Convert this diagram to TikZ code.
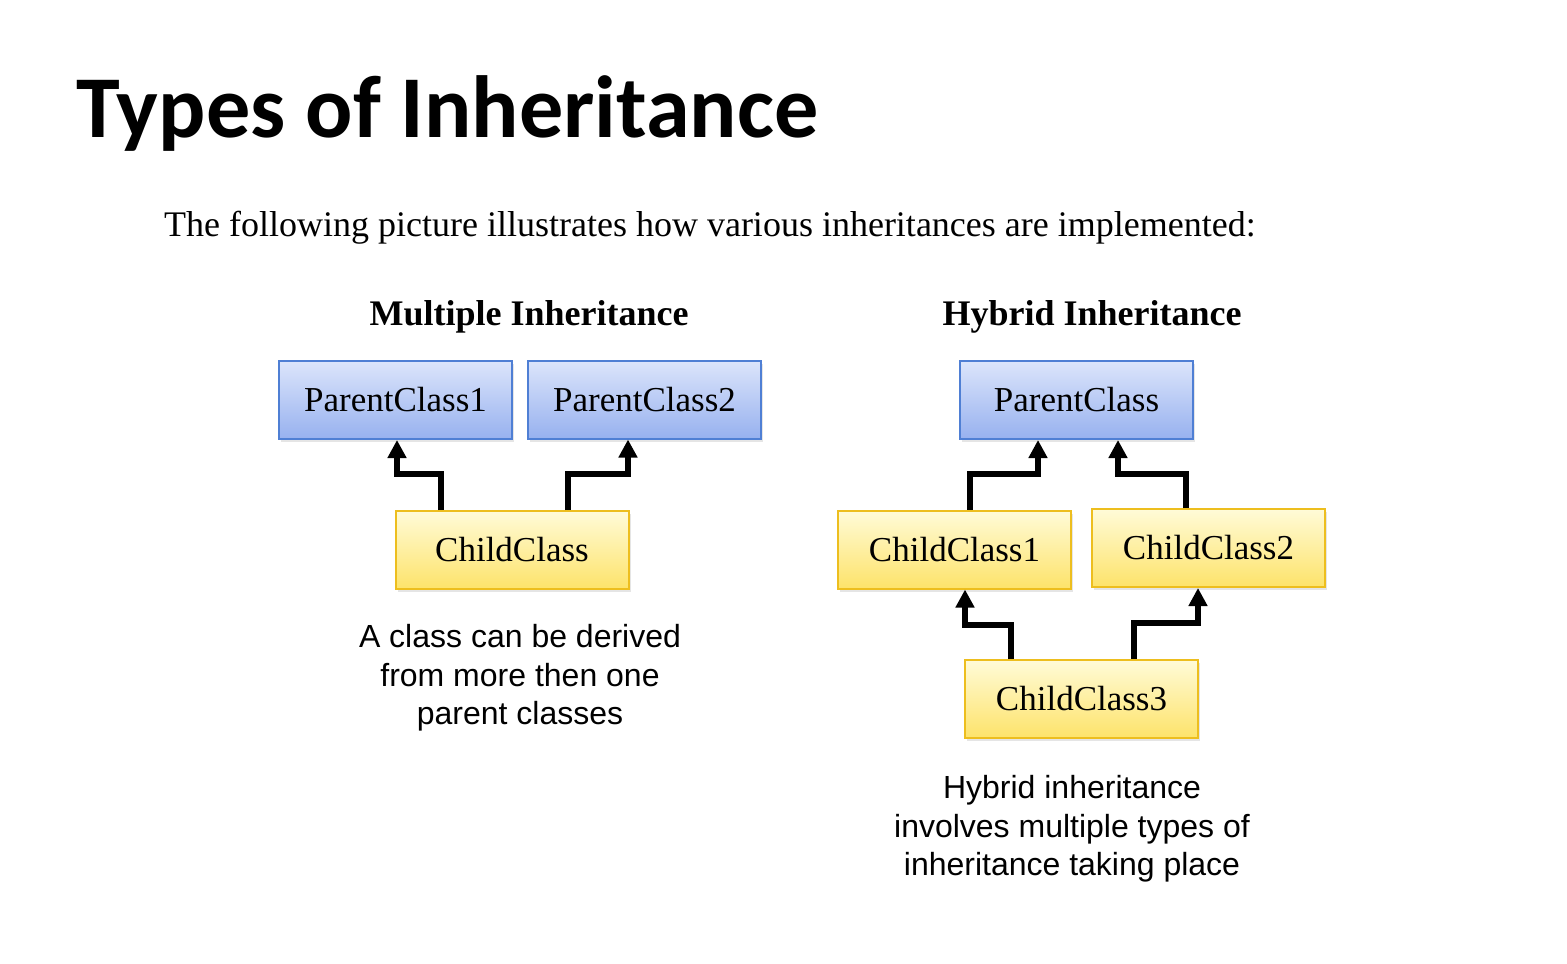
\documentclass[tikz,border=0pt]{standalone}
\usepackage{fontspec}
\setmainfont{Liberation Serif}
\setsansfont{Liberation Sans}
\newfontfamily\titlefont{Carlito}
\usetikzlibrary{arrows.meta}
\usetikzlibrary{shadows}
\definecolor{pbluetop}{HTML}{DCE5FB}
\definecolor{pbluebot}{HTML}{97B1EF}
\definecolor{pblueline}{HTML}{4F7FD4}
\definecolor{cyeltop}{HTML}{FFFBD8}
\definecolor{cyelbot}{HTML}{FDE36A}
\definecolor{cyelline}{HTML}{EDBE1E}

\begin{document}
\begin{tikzpicture}[x=0.5pt, y=-0.5pt,
		box/.style={rectangle, minimum width=116.5pt, minimum height=39pt, inner sep=0pt, line width=1pt, font=\fontsize{17.5}{20}\selectfont, drop shadow={opacity=0.2, shadow xshift=1pt, shadow yshift=-1.5pt}},
		parent/.style={box, draw=pblueline, top color=pbluetop, bottom color=pbluebot},
		child/.style={box, draw=cyelline, top color=cyeltop, bottom color=cyelbot},
		inh/.style={line width=3pt, line join=miter, -{Triangle[length=9pt, width=9pt]}},
		caption/.style={align=center, font=\sffamily\fontsize{16}{19.25}\selectfont}]
		\fill[white] (0,0) rectangle (1567,963);
		\useasboundingbox (0,0) rectangle (1567,963);
		\node[anchor=base west, font=\titlefont\bfseries\fontsize{44.1}{50}\selectfont] (title) at (69,137) {Types of Inheritance};
		\node[anchor=base west, font=\fontsize{18}{22}\selectfont] (intro) at (157,236) {The following picture illustrates how various inheritances are implemented:};
		% multiple inheritance
		\node[anchor=base, font=\bfseries\fontsize{18}{22}\selectfont] (mhead) at (529,325) {Multiple Inheritance};
		\node[parent] at (395.5,400) (pc1) {ParentClass1};
		\node[parent] at (644.5,399.5) (pc2) {ParentClass2};
		\node[child] at (512,550) (cc) {ChildClass};
		\draw[inh] (cc.north -| 441,0) -- (441,474) -- (397,474) -- (pc1.south -| 397,0);
		\draw[inh] (cc.north -| 568,0) -- (568,474) -- (628,474) -- (pc2.south -| 628,0);
		\node[caption] (mtext) at (520,678) {A class can be derived\\from more then one\\parent classes};
		% hybrid inheritance
		\node[anchor=base, font=\bfseries\fontsize{18}{22}\selectfont] (hhead) at (1092,325) {Hybrid Inheritance};
		\node[parent] at (1076.5,400) (hp) {ParentClass};
		\node[child] at (954.5,549.5) (hc1) {ChildClass1};
		\node[child] at (1208.5,548) (hc2) {ChildClass2};
		\node[child] at (1081.5,699) (hc3) {ChildClass3};
		\draw[inh] (hc1.north -| 970,0) -- (970,474) -- (1038,474) -- (hp.south -| 1038,0);
		\draw[inh] (hc2.north -| 1186,0) -- (1186,474) -- (1118,474) -- (hp.south -| 1118,0);
		\draw[inh] (hc3.north -| 1011,0) -- (1011,625) -- (965,625) -- (hc1.south -| 965,0);
		\draw[inh] (hc3.north -| 1134,0) -- (1134,623) -- (1198,623) -- (hc2.south -| 1198,0);
		\node[caption] (htext) at (1072,829) {Hybrid inheritance\\involves multiple types of\\inheritance taking place};
	\end{tikzpicture}
\end{document}
